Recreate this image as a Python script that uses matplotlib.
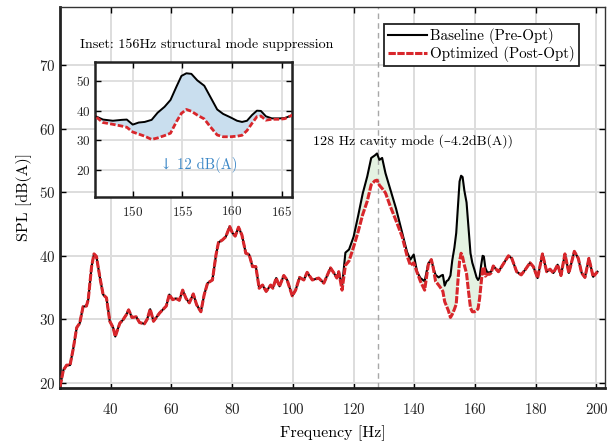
import matplotlib
matplotlib.use('Agg')
import matplotlib.pyplot as plt
import numpy as np
from matplotlib.lines import Line2D

# ---------------- data ----------------
freq_low = [23.3, 24.4, 25.5, 26.6, 27.6, 28.8, 29.8, 30.9, 32.0, 32.6,
            33.7, 34.5, 35.3, 36.4, 37.5, 38.6, 39.7, 40.8, 41.5, 43.0,
            44.0, 45.1, 45.9, 47.0, 48.4, 49.5, 51.1, 52.0, 53.0, 54.1,
            56.1, 58.3, 59.3, 60.4, 61.5, 62.6, 63.7, 64.8, 65.9, 67.2,
            68.3, 69.7, 70.8, 71.9, 73.5, 74.7, 75.5, 76.8, 77.9, 79.2,
            80.1, 81.0, 82.1, 83.2, 84.5, 85.6, 86.7, 87.8, 88.9, 90.0,
            91.2, 92.7, 93.4, 94.5, 95.6, 97.0, 98.1, 99.8, 100.9, 102.2,
            103.6, 104.7, 106.4, 108.5, 110.2, 112.4, 113.5, 114.5, 115.1]
spl_low = [19.4, 22.0, 22.8, 22.8, 25.2, 28.7, 29.4, 32.0, 32.1, 33.1,
           38.3, 40.3, 39.9, 36.7, 33.9, 33.4, 29.7, 28.7, 27.3, 29.4,
           29.9, 30.7, 31.5, 30.3, 30.4, 29.5, 29.3, 30.0, 31.6, 29.7,
           31.0, 32.1, 33.9, 33.1, 33.3, 33.0, 34.6, 33.3, 32.6, 34.0,
           32.3, 31.2, 33.9, 35.7, 36.2, 40.2, 42.1, 42.5, 43.0, 44.6,
           43.6, 43.1, 44.5, 43.3, 40.4, 40.2, 38.3, 38.3, 34.9, 35.4,
           34.4, 35.4, 34.9, 36.5, 35.2, 36.9, 36.2, 33.7, 34.6, 36.6,
           36.2, 37.4, 36.2, 36.5, 35.7, 38.1, 37.3, 36.5, 37.5]

freq_mid = [116.2, 117.3, 118.5, 120.0, 121.5, 123.0, 124.5, 125.8, 127.0, 127.7,
            128.5, 129.4, 130.5, 132.0, 134.0, 136.0, 137.6, 138.7, 139.8, 140.9,
            142.0, 143.4, 144.6, 145.6,
            146.2, 147.0, 148.0, 148.9, 149.4, 150.0, 150.6, 151.2, 151.9, 152.5,
            153.2, 153.8, 154.4, 154.9, 155.4, 155.9, 156.5, 157.2, 157.8, 158.5,
            159.1, 159.8, 160.5, 161.0, 161.5, 162.0, 162.5, 162.9, 163.4, 164.0,
            164.8, 165.3, 166.0]
baseline_mid = [35.2, 40.5, 41.0, 43.0, 46.3, 49.8, 52.5, 55.4, 55.8, 56.1,
                55.1, 55.4, 53.0, 50.6, 47.4, 43.6, 40.6, 39.4, 40.2, 37.5,
                36.5, 36.0, 38.8, 39.4,
                38.2, 37.0, 36.6, 36.9, 37.0, 35.3, 36.0, 36.2, 36.9, 39.3,
                41.3, 43.6, 48.1, 51.7, 52.6, 52.4, 50.2, 48.4, 44.7, 40.4,
                38.9, 37.8, 36.6, 36.2, 36.6, 38.5, 40.0, 39.9, 38.1, 37.4,
                37.4, 37.5, 38.4]
optimized_mid = [34.6, 38.5, 39.2, 41.4, 43.8, 46.5, 48.6, 51.2, 51.8, 51.9,
                 51.1, 50.6, 49.9, 47.9, 45.5, 43.0, 40.0, 38.5, 38.9, 37.4,
                 36.0, 34.6, 38.6, 39.4,
                 38.2, 36.0, 35.4, 34.8, 34.4, 32.8, 32.1, 31.4, 30.3, 30.8,
                 31.6, 32.4, 36.3, 39.1, 40.4, 39.8, 38.5, 37.2, 34.6, 31.8,
                 31.2, 31.2, 31.4, 31.7, 33.3, 35.7, 38.0, 38.2, 36.8, 37.1,
                 37.1, 37.3, 38.4]

freq_high = [167.7, 171.0, 172.1, 173.7, 175.2, 176.5, 178.1, 179.2, 180.6, 182.2,
             183.6, 184.7, 185.8, 187.2, 188.3, 189.6, 190.9, 192.7, 194.0, 195.1,
             196.2, 197.5, 198.9, 200.3]
spl_high = [37.5, 40.0, 39.6, 37.5, 37.0, 37.8, 38.9, 38.3, 36.5, 40.3,
            37.5, 37.9, 37.3, 38.6, 36.9, 40.3, 37.3, 40.7, 39.6, 37.3,
            36.6, 39.6, 36.7, 37.5]

x_ticks = [40, 60, 80, 100, 120, 140, 160, 180, 200]
y_ticks = [20, 30, 40, 50, 60, 70]
inset_x_ticks = [150, 155, 160, 165]
inset_y_ticks = [20, 30, 40, 50]
cavity_freq = 128

freq = np.array(freq_low + freq_mid + freq_high)
baseline = np.array(spl_low + baseline_mid + spl_high)
optimized = np.array(spl_low + optimized_mid + spl_high)

# ---------------- style ----------------
plt.rcParams['font.family'] = ['cmr10', 'DejaVu Serif']
plt.rcParams['mathtext.fontset'] = 'cm'
plt.rcParams['axes.formatter.use_mathtext'] = True
plt.rcParams['axes.unicode_minus'] = False

RED = '#d8262b'
GRID = '#dddddd'
dash = (0, (2.4, 0.5))

W, H = 608, 446
fig = plt.figure(figsize=(W / 100, H / 100), dpi=100)
ax = fig.add_axes([60 / W, 1 - 388 / H, (605 - 60) / W, (388 - 6.7) / H])

ax.fill_between(freq, baseline, optimized, where=baseline >= optimized,
                color='#e4f2e2', lw=0, zorder=1, interpolate=True)
ax.axvline(cavity_freq, color='#a8a8a8', ls=(0, (4, 3)), lw=1, zorder=1.5)
ax.plot(freq, baseline, color='black', lw=1.5, zorder=2)
ax.plot(freq, optimized, color=RED, lw=2.2, ls=dash, zorder=3)

ax.set_xlim(23.3, 202.8)
ax.set_ylim(19.2, 79.2)
ax.set_xticks(x_ticks)
ax.set_yticks(y_ticks)
ax.grid(True, color=GRID, lw=1.4)
ax.set_axisbelow(True)
ax.tick_params(direction='in', length=4, width=1, top=True, right=True,
               labelsize=10.8, colors='black')
ax.tick_params(axis='x', pad=10)
ax.tick_params(labelcolor='#222222')
for s in ['left', 'bottom']:
    ax.spines[s].set_linewidth(2)
    ax.spines[s].set_color('#222222')
for s in ['top', 'right']:
    ax.spines[s].set_linewidth(1)
    ax.spines[s].set_color('#333333')

ax.set_xlabel('Frequency [Hz]', fontsize=11.5, labelpad=6)
ax.set_ylabel('SPL [dB(A)]', fontsize=11.5, labelpad=5)

ax.text(139.7, 58.1, '128 Hz cavity mode (–4.2dB(A))', ha='center',
        va='center', fontsize=10, zorder=5)

handles = [Line2D([], [], color='black', lw=1.5),
           Line2D([], [], color=RED, lw=2.2, ls=dash)]
leg = ax.legend(handles, ['Baseline (Pre-Opt)', 'Optimized (Post-Opt)'],
                loc='upper right', bbox_to_anchor=(579 / W, 1 - 24 / H),
                bbox_transform=fig.transFigure, borderaxespad=0,
                fancybox=False, framealpha=1, edgecolor='#222222',
                fontsize=10.8, handlelength=2.6, handletextpad=0.25,
                borderpad=0.25, labelspacing=0.15)
leg.get_frame().set_linewidth(1.3)

# ---------------- inset ----------------
axi = fig.add_axes([95 / W, 1 - 196.7 / H, (291.7 - 95) / W, (196.7 - 62.3) / H])
axi.fill_between(freq, baseline, optimized, where=baseline >= optimized,
                 color='#c9deee', lw=0, zorder=1, interpolate=True)
axi.plot(freq, baseline, color='black', lw=1.4, zorder=2)
axi.plot(freq, optimized, color=RED, lw=2.0, ls=(0, (2.0, 0.8)), zorder=3)
axi.set_xlim(146.2, 166.0)
axi.set_ylim(11.0, 56.3)
axi.set_xticks(inset_x_ticks)
axi.set_yticks(inset_y_ticks)
axi.grid(True, color=GRID, lw=1.3)
axi.set_axisbelow(True)
axi.tick_params(direction='in', length=4, width=1, top=True, right=True,
                labelsize=9.5, labelcolor='#222222')
axi.tick_params(axis='x', pad=6)
for s in axi.spines.values():
    s.set_linewidth(1.8)
    s.set_color('#222222')
axi.text(156.6, 21.7, '↓ 12 dB(A)', color='#3a86c6', ha='center',
         va='center', fontsize=10.5)

fig.text(80 / W, 1 - 45 / H, 'Inset: 156Hz structural mode suppression',
         ha='left', va='center', fontsize=10.1)

fig.savefig('out.png', dpi=100)
